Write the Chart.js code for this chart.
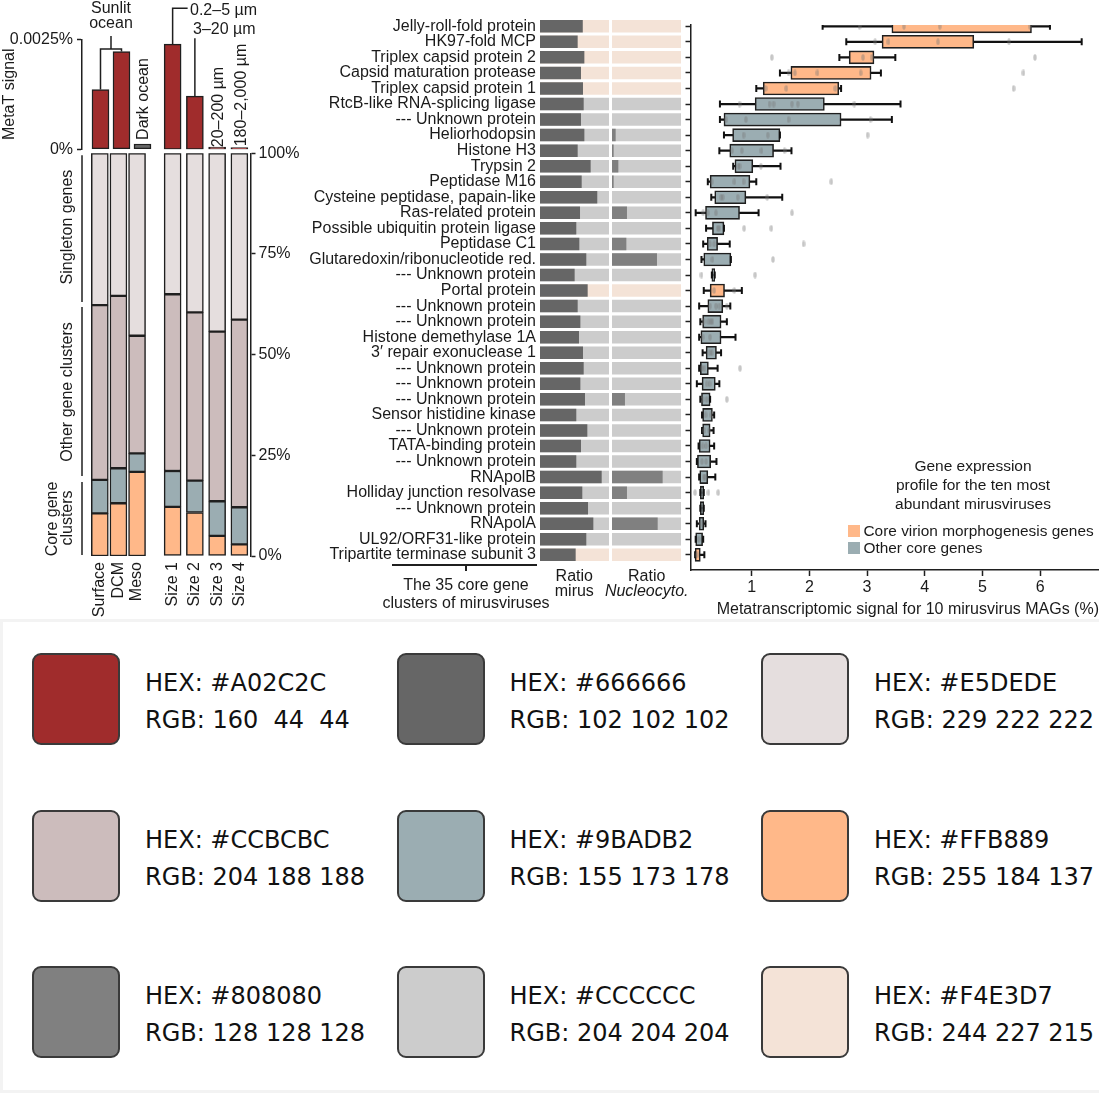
<!DOCTYPE html>
<html>
<head>
<meta charset="utf-8">
<script src="https://cdn.jsdelivr.net/npm/chart.js@4.4.1/dist/chart.umd.min.js"></script>
<style>
html,body{margin:0;padding:0;background:#fff;overflow:hidden;}
#page{position:relative;width:1099px;height:1093px;overflow:hidden;font-family:'Liberation Sans',Arial,Helvetica,sans-serif;color:#1a1a1a;}
canvas{position:absolute;}
.t{position:absolute;white-space:nowrap;font-size:16px;line-height:16px;}
.c{transform:translate(-50%,-50%);text-align:center;}
.l{transform:translate(0,-50%);}
.r{transform:translate(-50%,-50%) rotate(-90deg);}
.sw{position:absolute;box-sizing:border-box;border:2px solid #3a3a3a;border-radius:9px;}
.pt{position:absolute;white-space:pre;font-family:'DejaVu Sans',sans-serif;font-size:24px;line-height:24px;color:#111;transform:translate(0,-50%);}
</style>
</head>
<body>
<div id="page"></div>
<script>
// ---------------- DATA ----------------
const habitats = ['Surface', 'DCM', 'Meso'];
const sizeFractions = ['Size 1', 'Size 2', 'Size 3', 'Size 4'];
const metaTTicks = [0, 0.0025];
const shareTicks = [0, 25, 50, 75, 100];
const signalTicks = [1, 2, 3, 4, 5, 6];

// MetaT signal (%)
const metaTHabitat = [0.00136, 0.00222, 0.00012];
const metaTSize = [0.00239, 0.00121, 0.00005, 0.00004];

// gene composition (%)
const coreMorphHabitat = [10.6, 13.1, 20.9];
const coreMorphSize = [12.2, 10.8, 5.0, 2.9];
const coreOtherHabitat = [8.3, 8.7, 4.6];
const coreOtherSize = [8.9, 7.9, 8.6, 9.2];
const otherClustersHabitat = [43.4, 42.8, 29.2];
const otherClustersSize = [43.9, 41.8, 42.1, 46.6];
const singletonHabitat = [37.7, 35.4, 45.3];
const singletonSize = [35.0, 39.5, 44.3, 41.3];

const genes = ['Jelly-roll-fold protein', 'HK97-fold MCP', 'Triplex capsid protein 2', 'Capsid maturation protease',
  'Triplex capsid protein 1', 'RtcB-like RNA-splicing ligase', '--- Unknown protein', 'Heliorhodopsin', 'Histone H3',
  'Trypsin 2', 'Peptidase M16', 'Cysteine peptidase, papain-like', 'Ras-related protein', 'Possible ubiquitin protein ligase',
  'Peptidase C1', 'Glutaredoxin/ribonucleotide red.', '--- Unknown protein', 'Portal protein', '--- Unknown protein',
  '--- Unknown protein', 'Histone demethylase 1A', '3\u2032 repair exonuclease 1', '--- Unknown protein', '--- Unknown protein',
  '--- Unknown protein', 'Sensor histidine kinase', '--- Unknown protein', 'TATA-binding protein', '--- Unknown protein',
  'RNApolB', 'Holliday junction resolvase', '--- Unknown protein', 'RNApolA', 'UL92/ORF31-like protein', 'Tripartite terminase subunit 3'];
const morphogenesis = [1,1,1,1,1,0,0,0,0,0,0,0,0,0,0,0,0,1,0,0,0,0,0,0,0,0,0,0,0,0,0,0,0,0,1];

const ratioMirus = [0.62, 0.546, 0.643, 0.594, 0.623, 0.633, 0.594, 0.643, 0.546, 0.734, 0.604, 0.83, 0.58, 0.526, 0.57,
  0.671, 0.502, 0.691, 0.546, 0.585, 0.565, 0.623, 0.633, 0.585, 0.652, 0.526, 0.686, 0.594, 0.526, 0.894, 0.613, 0.696,
  0.773, 0.671, 0.517];
const ratioNucleo = [0, 0, 0, 0, 0, 0, 0, 0.053, 0.024, 0.092, 0.024, 0, 0.217, 0, 0.208, 0.652, 0, 0, 0, 0, 0, 0, 0, 0,
  0.188, 0, 0, 0, 0, 0.734, 0.217, 0, 0.662, 0, 0];

// boxplot statistics, metatranscriptomic signal (%)
const whiskerLo = [2.23, 2.64, 2.52, 1.49, 1.08, 0.45, 0.45, 0.52, 0.44, 0.68, 0.24, 0.30, 0.03, 0.21, 0.16, 0.13, 0.31, 0.17,
  0.09, 0.11, 0.09, 0.15, 0.09, 0.05, 0.11, 0.14, 0.14, 0.08, 0.05, 0.09, 0.11, 0.11, 0.05, 0.03, 0.02];
const boxQ1 = [3.43, 3.26, 2.69, 1.68, 1.20, 1.06, 0.52, 0.67, 0.62, 0.71, 0.28, 0.36, 0.20, 0.32, 0.23, 0.17, 0.31, 0.28,
  0.24, 0.15, 0.12, 0.21, 0.11, 0.14, 0.13, 0.15, 0.15, 0.09, 0.06, 0.10, 0.11, 0.11, 0.09, 0.03, 0.02];
const boxQ3 = [5.85, 4.85, 3.12, 3.07, 2.51, 2.26, 2.55, 1.49, 1.38, 1.02, 0.97, 0.90, 0.79, 0.52, 0.41, 0.64, 0.36, 0.53,
  0.50, 0.47, 0.47, 0.39, 0.25, 0.37, 0.28, 0.32, 0.28, 0.28, 0.29, 0.24, 0.17, 0.17, 0.17, 0.15, 0.11];
const whiskerHi = [6.17, 6.72, 3.49, 3.24, 2.55, 3.58, 3.43, 1.49, 1.69, 1.50, 1.08, 1.53, 1.12, 0.52, 0.62, 0.64, 0.36, 0.83,
  0.63, 0.57, 0.72, 0.47, 0.41, 0.44, 0.28, 0.35, 0.34, 0.35, 0.39, 0.37, 0.17, 0.17, 0.20, 0.16, 0.18];
const magPoints = [
  [2.87, 3.64, 4.26, 5.82], [3.14, 3.37, 4.23, 5.46], [1.35, 2.93, 3.08, 5.91], [1.64, 1.75, 2.14, 2.89, 5.71],
  [1.24, 1.60, 2.45, 5.54], [0.79, 1.31, 1.38, 1.70, 1.80, 2.78], [0.56, 0.90, 1.64, 3.06], [0.86, 1.28, 3.01],
  [0.66, 0.83, 1.17, 1.57], [0.77, 0.79, 1.16], [0.31, 0.70, 0.86, 2.38], [0.47, 0.50, 0.76, 1.27],
  [0.16, 0.24, 0.38, 1.70], [0.41, 0.44, 0.87, 1.34], [0.28, 0.35, 1.90], [0.32, 1.37], [0.13, 1.06], [0.35, 0.70],
  [0.28, 0.38, 0.44, 0.57], [0.17, 0.25, 0.29, 0.32], [0.15, 0.28], [0.27, 0.31], [0.14, 0.18, 0.80], [0.22, 0.27],
  [0.15, 0.22, 0.57], [0.20, 0.29], [0.18, 0.26], [0.15, 0.21], [0.14, 0.21], [0.17, 0.19], [0.02, 0.25, 0.42], [],
  [0.12], [0.08], [0.06]];

const paletteHex = ['#A02C2C', '#666666', '#E5DEDE', '#CCBCBC', '#9BADB2', '#FFB889', '#808080', '#CCCCCC', '#F4E3D7'];
const paletteRgb = ['160  44  44', '102 102 102', '229 222 222', '204 188 188', '155 173 178', '255 184 137', '128 128 128', '204 204 204', '244 227 215'];

// ---------------- STYLE ----------------
const C_RED = '#A02C2C', C_DARK = '#666666', C_SINGLE = '#E5DEDE', C_OTHER = '#CCBCBC', C_CORE = '#9BADB2',
      C_MORPH = '#FFB889', C_NUC = '#808080', C_TRACK = '#CCCCCC', C_MTRACK = '#F4E3D7', C_LINE = '#1f1f1f';

Chart.defaults.font.family = "'Liberation Sans', Arial, Helvetica, sans-serif";
Chart.defaults.font.size = 16;
Chart.defaults.color = '#1a1a1a';
Chart.defaults.animation = false;
Chart.defaults.responsive = false;
Chart.defaults.events = [];
Chart.defaults.plugins.legend.display = false;
Chart.defaults.plugins.tooltip.enabled = false;

const page = document.getElementById('page');
function cv(l, t, w, h) {
  const c = document.createElement('canvas');
  c.width = w; c.height = h;
  c.style.left = l + 'px'; c.style.top = t + 'px';
  c.style.width = w + 'px'; c.style.height = h + 'px';
  page.appendChild(c); return c;
}
function div(cls, text, x, y, extra) {
  const d = document.createElement('div');
  d.className = cls; d.innerHTML = text;
  d.style.left = x + 'px'; d.style.top = y + 'px';
  if (extra) Object.assign(d.style, extra);
  page.appendChild(d); return d;
}
function rect(x, y, w, h, bg) {
  const d = document.createElement('div');
  Object.assign(d.style, {position: 'absolute', left: x + 'px', top: y + 'px', width: w + 'px', height: h + 'px', background: bg});
  page.appendChild(d); return d;
}
function line(ctx, pts) {
  ctx.save(); ctx.strokeStyle = C_LINE; ctx.lineWidth = 1.5; ctx.beginPath();
  pts.forEach((p, i) => i ? ctx.lineTo(p[0], p[1]) : ctx.moveTo(p[0], p[1]));
  ctx.stroke(); ctx.restore();
}
const axisGrid = (len) => ({display: true, offset: false, drawOnChartArea: false, tickLength: len, tickWidth: 1.5, tickColor: C_LINE});
const axisBorder = {display: true, width: 1.5, color: C_LINE};

// ---------------- A: MetaT signal ----------------
const bracketA1 = {id: 'bracketA1', afterDraw(chart) {
  const {x, y} = chart.scales, ctx = chart.ctx;
  const xs = x.getPixelForValue(0), xd = x.getPixelForValue(1);
  const ys = y.getPixelForValue(metaTHabitat[0]), yd = y.getPixelForValue(metaTHabitat[1]);
  line(ctx, [[xs, ys], [xs, 49], [xd, 49], [xd, yd]]);
  line(ctx, [[(xs + xd) / 2, 49], [(xs + xd) / 2, 36]]);
}};
new Chart(cv(0, 0, 160, 172), {
  type: 'bar',
  data: {datasets: [{data: metaTHabitat.map((v, i) => ({x: i, y: v})), backgroundColor: [C_RED, C_RED, C_DARK],
    borderColor: C_LINE, borderWidth: 1.5, borderSkipped: false, barThickness: 17}]},
  options: {
    layout: {autoPadding: false, padding: {top: 39.3, right: 6.5, bottom: 22.7, left: 0}},
    scales: {
      x: {type: 'linear', display: false, offset: false, min: -0.881, max: 2.524},
      y: {min: 0, max: 0.0025, afterFit: s => { s.width = 82; },
        afterBuildTicks: s => { s.ticks = metaTTicks.map(v => ({value: v})); },
        ticks: {callback: v => v + '%', padding: 4},
        grid: axisGrid(5), border: axisBorder,
        title: {display: true, text: 'MetaT signal', padding: 0}}
    }
  },
  plugins: [bracketA1]
});

const bracketA2 = {id: 'bracketA2', afterDraw(chart) {
  const {x, y} = chart.scales, ctx = chart.ctx;
  const x1 = x.getPixelForValue(0), x2 = x.getPixelForValue(1);
  line(ctx, [[x1, y.getPixelForValue(metaTSize[0])], [x1, 8.3], [x1 + 15, 8.3]]);
  line(ctx, [[x2, y.getPixelForValue(metaTSize[1])], [x2, 38.3]]);
}};
new Chart(cv(150, 0, 140, 172), {
  type: 'bar',
  data: {labels: sizeFractions, datasets: [{data: metaTSize, backgroundColor: C_RED,
    borderColor: C_LINE, borderWidth: 1.5, borderSkipped: false, barThickness: 17}]},
  options: {
    layout: {autoPadding: false, padding: {top: 39.3, right: 39.5, bottom: 22.7, left: 11.5}},
    scales: {x: {display: false}, y: {display: false, min: 0, max: 0.0025}}
  },
  plugins: [bracketA2]
});

// ---------------- B: gene composition ----------------
function stackSets(morph, core, other, single) {
  const base = {borderColor: C_LINE, borderWidth: 1.5, borderSkipped: false, barThickness: 17, stack: 's'};
  return [
    Object.assign({data: morph, backgroundColor: C_MORPH}, base),
    Object.assign({data: core, backgroundColor: C_CORE}, base),
    Object.assign({data: other, backgroundColor: C_OTHER}, base),
    Object.assign({data: single, backgroundColor: C_SINGLE}, base)
  ];
}
const xCat = {stacked: true, afterFit: s => { s.height = 64; },
  ticks: {minRotation: 90, maxRotation: 90, autoSkip: false, padding: 6},
  grid: {display: false, drawTicks: false}, border: {display: false}};

const bracketB1 = {id: 'bracketB1', afterDraw(chart) {
  const y = chart.scales.y, ctx = chart.ctx;
  const b1 = coreMorphHabitat[0] + coreOtherHabitat[0];
  const b2 = b1 + otherClustersHabitat[0];
  const p100 = y.getPixelForValue(100), p2 = y.getPixelForValue(b2), p1 = y.getPixelForValue(b1), p0 = y.getPixelForValue(0);
  line(ctx, [[82, p100 + 2], [82, p2 - 3]]);
  line(ctx, [[82, p2 + 2], [82, p1 - 4]]);
  line(ctx, [[82, p1 + 2], [82, p0 - 1]]);
}};
new Chart(cv(0, 140, 164, 480), {
  type: 'bar',
  data: {labels: habitats, datasets: stackSets(coreMorphHabitat, coreOtherHabitat, otherClustersHabitat, singletonHabitat)},
  options: {
    layout: {autoPadding: false, padding: {top: 13.3, right: 10.5, bottom: 0, left: 90.5}},
    scales: {x: xCat, y: {display: false, stacked: true, min: 0, max: 100}}
  },
  plugins: [bracketB1]
});
new Chart(cv(150, 140, 170, 480), {
  type: 'bar',
  data: {labels: sizeFractions, datasets: stackSets(coreMorphSize, coreOtherSize, otherClustersSize, singletonSize)},
  options: {
    layout: {autoPadding: false, padding: {top: 13.3, right: 0, bottom: 0, left: 11.5}},
    scales: {
      x: xCat,
      y: {position: 'right', stacked: true, min: 0, max: 100, afterFit: s => { s.width = 69.5; },
        afterBuildTicks: s => { s.ticks = shareTicks.map(v => ({value: v})); },
        ticks: {callback: v => v + '%', padding: 3}, grid: axisGrid(5), border: axisBorder}
    }
  }
});

// ---------------- C: ratio bars ----------------
const trackColors = genes.map((g, i) => morphogenesis[i] ? C_MTRACK : C_TRACK);
const fullTrack = genes.map(() => 1);
function ratioSets(values, color) {
  const common = {grouped: false, categoryPercentage: 1, barPercentage: 0.804, borderWidth: 0};
  return [
    Object.assign({data: values, backgroundColor: color, order: 1}, common),
    Object.assign({data: fullTrack, backgroundColor: trackColors, order: 2}, common)
  ];
}
new Chart(cv(290, 0, 320, 620), {
  type: 'bar',
  data: {labels: genes, datasets: ratioSets(ratioMirus, C_DARK)},
  options: {
    indexAxis: 'y',
    layout: {autoPadding: false, padding: {top: 18.5, right: 1, bottom: 57.4, left: 0}},
    scales: {
      x: {display: false, min: 0, max: 1},
      y: {afterFit: s => { s.width = 250; }, ticks: {autoSkip: false, padding: 4},
        grid: {display: false, drawTicks: false}, border: {display: false}}
    }
  }
});
new Chart(cv(612, 0, 69, 620), {
  type: 'bar',
  data: {labels: genes, datasets: ratioSets(ratioNucleo, C_NUC)},
  options: {
    indexAxis: 'y',
    layout: {autoPadding: false, padding: {top: 18.5, right: 0, bottom: 57.4, left: 0}},
    scales: {x: {display: false, min: 0, max: 1}, y: {display: false}}
  }
});

// ---------------- D: expression boxplots ----------------
const dot = document.createElement('canvas');
dot.width = 4; dot.height = 7;
(() => { const g = dot.getContext('2d'); g.fillStyle = 'rgba(120,120,120,0.42)'; g.beginPath(); g.ellipse(2, 3.5, 1.7, 3.2, 0, 0, Math.PI * 2); g.fill(); })();

new Chart(cv(640, 0, 459, 620), {
  type: 'bar',
  data: {datasets: [
    {type: 'bar', indexAxis: 'y', grouped: false, order: 3, categoryPercentage: 1, barPercentage: 1, maxBarThickness: 1.6,
      backgroundColor: '#111', borderWidth: 0,
      data: genes.map((g, i) => ({y: i, x: [whiskerLo[i], whiskerHi[i]]}))},
    {type: 'bar', indexAxis: 'y', grouped: false, order: 2, categoryPercentage: 1, barPercentage: 1, maxBarThickness: 13,
      backgroundColor: genes.map((g, i) => morphogenesis[i] ? C_MORPH : C_CORE),
      borderColor: C_LINE, borderWidth: 1.6, borderSkipped: false,
      data: genes.map((g, i) => ({y: i, x: [boxQ1[i], boxQ3[i]]}))},
    {type: 'scatter', order: 1, pointStyle: 'line', rotation: 90, radius: 3.5, borderWidth: 2, borderColor: '#111',
      data: genes.flatMap((g, i) => [{x: whiskerLo[i], y: i}, {x: whiskerHi[i], y: i}])},
    {type: 'scatter', order: 0, pointStyle: dot, radius: 3,
      data: magPoints.flatMap((pts, i) => pts.map(v => ({x: v, y: i})))}
  ]},
  options: {
    layout: {autoPadding: false, padding: {top: 25, right: 0, bottom: 0, left: 0}},
    scales: {
      x: {type: 'linear', offset: false, min: -0.06, max: 7.02, afterFit: s => { s.height = 50; },
        afterBuildTicks: s => { s.ticks = signalTicks.map(v => ({value: v})); },
        ticks: {padding: 2}, grid: axisGrid(6), border: axisBorder,
        title: {display: true, text: 'Metatranscriptomic signal for 10 mirusvirus MAGs (%)', align: 'end', padding: {top: 0, bottom: 1}}},
      y: {type: 'linear', offset: false, reverse: true, min: -0.0836, max: 34.978, afterFit: s => { s.width = 50.5; },
        afterBuildTicks: s => { s.ticks = genes.map((g, i) => ({value: i})); },
        ticks: {display: false}, grid: axisGrid(5), border: axisBorder}
    }
  }
});

// ---------------- free texts & lines ----------------
div('t c', 'Sunlit<br>ocean', 111, 15, {lineHeight: '15px'});
div('t l', '0.2\u20135 \u00b5m', 190, 10);
div('t l', '3\u201320 \u00b5m', 193, 29.3);
div('t r', 'Dark ocean', 142.7, 99);
div('t r', '20\u2013200 \u00b5m', 218.3, 106.7);
div('t r', '180\u20132,000 \u00b5m', 240.7, 95);
div('t r', 'Singleton genes', 66.5, 227);
div('t r', 'Other gene clusters', 66.7, 391.7);
div('t r', 'Core gene', 51.5, 519);
div('t r', 'clusters', 67, 518);

rect(392, 564.3, 145, 1.5, C_LINE);
rect(465.3, 565, 1.5, 6, C_LINE);
div('t c', 'The 35 core gene<br>clusters of mirusviruses', 466, 594, {lineHeight: '18px'});
div('t c', 'Ratio<br>mirus', 574.3, 582.5, {lineHeight: '15px'});
div('t c', 'Ratio<br><i>Nucleocyto.</i>', 646.7, 582.5, {lineHeight: '15px'});

div('t c', 'Gene expression<br>profile for the ten most<br>abundant mirusviruses', 973, 485.4, {lineHeight: '18.7px', fontSize: '15.5px'});
rect(848, 525, 12, 12, C_MORPH);
rect(848, 542, 12, 12, C_CORE);
div('t l', 'Core virion morphogenesis genes', 863.5, 531, {fontSize: '15.4px'});
div('t l', 'Other core genes', 863.5, 548, {fontSize: '15.4px'});

// ---------------- palette ----------------
rect(0, 619, 1099, 474, '#f3f3f3');
rect(3, 622, 1096, 468, '#ffffff');
paletteHex.forEach((hex, k) => {
  const col = k % 3, row = Math.floor(k / 3);
  const x = 32 + col * 364.5, y = 653 + row * 156.5;
  const s = document.createElement('div');
  s.className = 'sw';
  Object.assign(s.style, {left: x + 'px', top: y + 'px', width: '88px', height: '92px', background: hex});
  page.appendChild(s);
  div('pt', 'HEX: ' + hex, x + 113, y + 30);
  div('pt', 'RGB: ' + paletteRgb[k], x + 113, y + 67);
});
</script>
</body>
</html>
